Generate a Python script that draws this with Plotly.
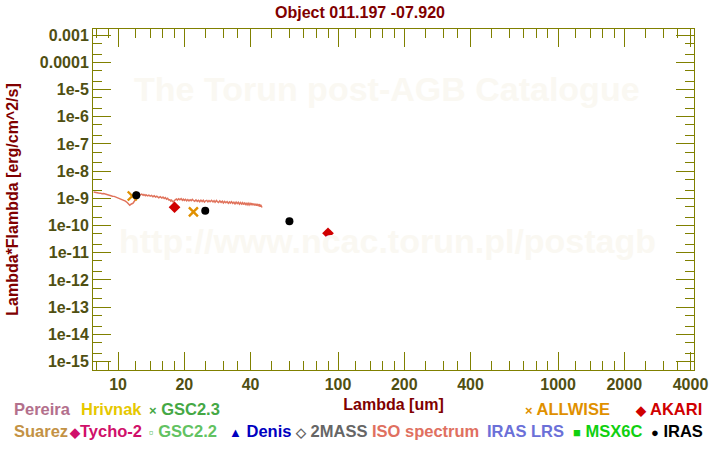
import plotly.graph_objects as go

# ---------------- data ----------------
iso_wave = [7.74, 7.9, 8.0, 8.15, 8.3, 8.45, 8.6, 8.8, 9.0, 9.2, 9.44, 9.6, 9.8, 10.0, 10.2, 10.4,
            10.6, 10.8, 11.0, 11.15, 11.3, 11.5, 11.7, 11.85, 12.0, 12.2, 12.43, 12.6, 12.8, 13.0,
            13.1, 13.3, 13.4, 13.6, 13.8, 14.0, 14.2, 14.4, 14.6, 14.8, 15.0, 15.3, 15.56, 15.8,
            16.0, 16.2, 16.4, 16.6, 16.8, 17.0, 17.2, 17.35, 17.5, 17.7, 17.86, 18.0, 18.2, 18.4,
            18.6, 18.85, 19.1, 19.35, 19.6, 19.8, 20.0, 20.25, 20.5, 20.75, 21.0, 21.25, 21.5,
            21.75, 22.0, 22.3, 22.6, 22.9, 23.2, 23.5, 23.8, 24.1, 24.4, 24.7, 25.0, 25.3, 25.6,
            25.9, 26.2, 26.6, 27.0, 27.3, 27.6, 28.0, 28.3, 28.6, 29.0, 29.4, 29.8, 30.1, 30.5,
            30.9, 31.3, 31.7, 32.1, 32.4, 32.8, 33.2, 33.6, 34.0, 34.4, 34.8, 35.2, 35.6, 36.0,
            36.4, 36.8, 37.1, 37.5, 37.9, 38.2, 38.6, 39.0, 39.4, 39.8, 40.2, 40.6, 41.0, 41.4,
            41.8, 42.2, 42.6, 43.0, 43.4, 43.9, 44.2, 44.5, 44.8, 45.1]
iso_flux = [1.70e-9, 1.62e-9, 1.66e-9, 1.58e-9, 1.55e-9, 1.47e-9, 1.50e-9, 1.40e-9, 1.38e-9, 1.30e-9,
            1.20e-9, 1.18e-9, 1.10e-9, 1.08e-9, 9.6e-10, 9.4e-10, 8.4e-10, 7.9e-10, 7.0e-10, 6.5e-10,
            5.6e-10, 6.2e-10, 6.7e-10, 7.8e-10, 9.4e-10, 1.18e-9, 1.42e-9, 1.33e-9, 1.42e-9, 1.30e-9,
            1.39e-9, 1.26e-9, 1.36e-9, 1.24e-9, 1.32e-9, 1.20e-9, 1.28e-9, 1.15e-9, 1.24e-9, 1.11e-9,
            1.19e-9, 1.05e-9, 1.14e-9, 1.02e-9, 1.11e-9, 9.8e-10, 1.06e-9, 9.3e-10, 1.00e-9, 8.8e-10,
            8.9e-10, 8.0e-10, 8.6e-10, 7.6e-10, 7.4e-10, 8.2e-10, 8.7e-10, 9.5e-10, 8.6e-10, 9.6e-10,
            8.8e-10, 9.8e-10, 8.5e-10, 9.3e-10, 8.4e-10, 9.2e-10, 8.1e-10, 9.0e-10, 8.0e-10, 8.9e-10,
            8.2e-10, 9.2e-10, 8.3e-10, 7.8e-10, 8.8e-10, 7.7e-10, 8.5e-10, 7.5e-10, 8.6e-10, 7.6e-10,
            8.5e-10, 7.3e-10, 8.1e-10, 8.4e-10, 7.4e-10, 8.3e-10, 7.5e-10, 8.5e-10, 7.4e-10, 8.2e-10,
            7.2e-10, 8.3e-10, 7.5e-10, 7.0e-10, 8.0e-10, 7.1e-10, 7.8e-10, 6.8e-10, 7.7e-10, 6.9e-10,
            7.6e-10, 6.6e-10, 7.4e-10, 6.7e-10, 7.5e-10, 6.5e-10, 7.2e-10, 6.3e-10, 7.3e-10, 6.4e-10,
            7.1e-10, 6.1e-10, 7.0e-10, 6.2e-10, 6.9e-10, 5.9e-10, 6.7e-10, 6.0e-10, 6.8e-10, 5.8e-10,
            6.6e-10, 5.7e-10, 6.5e-10, 5.8e-10, 6.6e-10, 5.6e-10, 6.4e-10, 5.5e-10, 6.3e-10, 5.4e-10,
            6.2e-10, 5.2e-10, 6.1e-10, 4.9e-10, 5.8e-10, 5.3e-10, 4.6e-10, 4.0e-10]

allwise_wave = [11.6, 22.0]
allwise_flux = [1.22e-9, 3.2e-10]

iras_wave = [12.1, 24.9, 60.1]
iras_flux = [1.29e-9, 3.5e-10, 1.43e-10]

akari_wave = [18.06, 90.0]
akari_flux = [4.7e-10, 5.2e-11]

x_ticks = [10, 20, 40, 100, 200, 400, 1000, 2000, 4000]
x_ticktext = ["10", "20", "40", "100", "200", "400", "1000", "2000", "4000"]
x_minor = [8, 9, 12, 14, 16, 18, 25, 30, 35, 50, 60, 70, 80, 90, 120, 140, 160, 180, 250, 300, 350,
           500, 600, 700, 800, 900, 1200, 1400, 1600, 1800, 2500, 3000, 3500]

y_ticks = [1e-3, 1e-4, 1e-5, 1e-6, 1e-7, 1e-8, 1e-9, 1e-10, 1e-11, 1e-12, 1e-13, 1e-14, 1e-15]
y_ticktext = ["0.001", "0.0001", "1e-5", "1e-6", "1e-7", "1e-8", "1e-9", "1e-10", "1e-11",
              "1e-12", "1e-13", "1e-14", "1e-15"]
y_minor = [m * 10.0 ** e for e in range(-16, -2) for m in (2, 5)]

title_text = "Object 011.197 -07.920"
x_title = "Lambda [um]"
y_title = "Lambda*Flambda [erg/cm^2/s]"

# legend rows: (symbol, label, color, x-left, row)
legend_items = [
    ("", "Pereira", "#b3708c", 10, 0),
    ("", "Hrivnak", "#e6c800", 78, 0),
    ("×", "GSC2.3", "#45a845", 147, 0),
    ("×", "ALLWISE", "#e09000", 526, 0),
    ("◆", "AKARI", "#d00000", 637, 0),
    ("", "Suarez", "#c39245", 10, 1),
    ("◆", "Tycho-2", "#d0106a", 66, 1),
    ("▫", "GSC2.2", "#62c262", 147, 1),
    ("▲", "Denis", "#0000c0", 227, 1),
    ("◇", "2MASS", "#666666", 294, 1),
    ("", "ISO spectrum", "#e07060", 372, 1),
    ("", "IRAS LRS", "#6b70d8", 488, 1),
    ("■", "MSX6C", "#10d010", 575, 1),
    ("●", "IRAS", "#000000", 654, 1),
]

# ---------------- figure ----------------
FONT = "Liberation Sans, Arial, sans-serif"
OLIVE = "#808000"
TICKCOL = "#4f4f12"
MAROON = "#800000"
WM = "#faf8f2"

fig = go.Figure()

fig.add_trace(go.Scatter(x=iso_wave, y=iso_flux, mode="lines",
                         line=dict(color="#e0735c", width=1.5), hoverinfo="skip"))
fig.add_trace(go.Scatter(x=allwise_wave, y=allwise_flux, mode="markers",
                         marker=dict(symbol="x-thin", size=9, line=dict(color="#e09000", width=2.4))))
fig.add_trace(go.Scatter(x=iras_wave, y=iras_flux, mode="markers",
                         marker=dict(symbol="circle", size=8, color="#000000")))
fig.add_trace(go.Scatter(x=akari_wave, y=akari_flux, mode="markers",
                         marker=dict(symbol="diamond", size=9, color="#d00000")))

axis_common = dict(
    type="log", showgrid=False, zeroline=False,
    showline=True, linecolor=OLIVE, linewidth=1,
    ticks="inside", ticklen=18, tickwidth=1, tickcolor=OLIVE,
    mirror="ticks",
    tickfont=dict(family=FONT, size=16, color=TICKCOL, weight="bold"),
    tickmode="array",
)

fig.update_xaxes(**axis_common, range=[0.886, 3.618], tickvals=x_ticks, ticktext=x_ticktext,
                 minor=dict(tickmode="array", tickvals=x_minor, ticks="inside", ticklen=9,
                            tickwidth=1, tickcolor=OLIVE),
                 title=dict(text=x_title, font=dict(family=FONT, size=16, color=MAROON, weight="bold"),
                            standoff=6))
fig.update_yaxes(**axis_common, range=[-15.31, -2.776], tickvals=y_ticks, ticktext=y_ticktext,
                 minor=dict(tickmode="array", tickvals=y_minor, ticks="inside", ticklen=9,
                            tickwidth=1, tickcolor=OLIVE),
                 title=dict(text=y_title, font=dict(family=FONT, size=16, color=MAROON, weight="bold"),
                            standoff=17))

annotations = [
    dict(text="The Torun post-AGB Catalogue", xref="paper", yref="paper", x=0.49, y=0.885,
         showarrow=False, font=dict(family=FONT, size=34, color=WM, weight="bold")),
    dict(text="http://www.ncac.torun.pl/postagb", xref="paper", yref="paper", x=0.49, y=0.317,
         showarrow=False, font=dict(family=FONT, size=34, color=WM, weight="bold")),
]

plot_l, plot_r, plot_t, plot_b = 92, 699, 29, 370
row_y = [409, 431]
for sym, label, col, xl, row in legend_items:
    if sym:
        sep = "" if label == "Tycho-2" else " "
        txt = '<span style="font-size:13px">' + sym + '</span>' + sep + label
    else:
        txt = label
    annotations.append(dict(text=txt, xref="paper", yref="paper",
                            x=(xl - plot_l) / (plot_r - plot_l),
                            y=(plot_b - row_y[row]) / (plot_b - plot_t),
                            xanchor="left", yanchor="middle", showarrow=False,
                            font=dict(family=FONT, size=16.5, color=col, weight="bold")))

fig.update_layout(
    width=720, height=450,
    margin=dict(l=92, r=21, t=29, b=80),
    paper_bgcolor="white", plot_bgcolor="white",
    showlegend=False,
    title=dict(text=title_text, x=0.5, xref="container", xanchor="center", y=0.973, yanchor="middle",
               font=dict(family=FONT, size=16, color=MAROON, weight="bold")),
    annotations=annotations,
)

fig.write_html("out.html")
